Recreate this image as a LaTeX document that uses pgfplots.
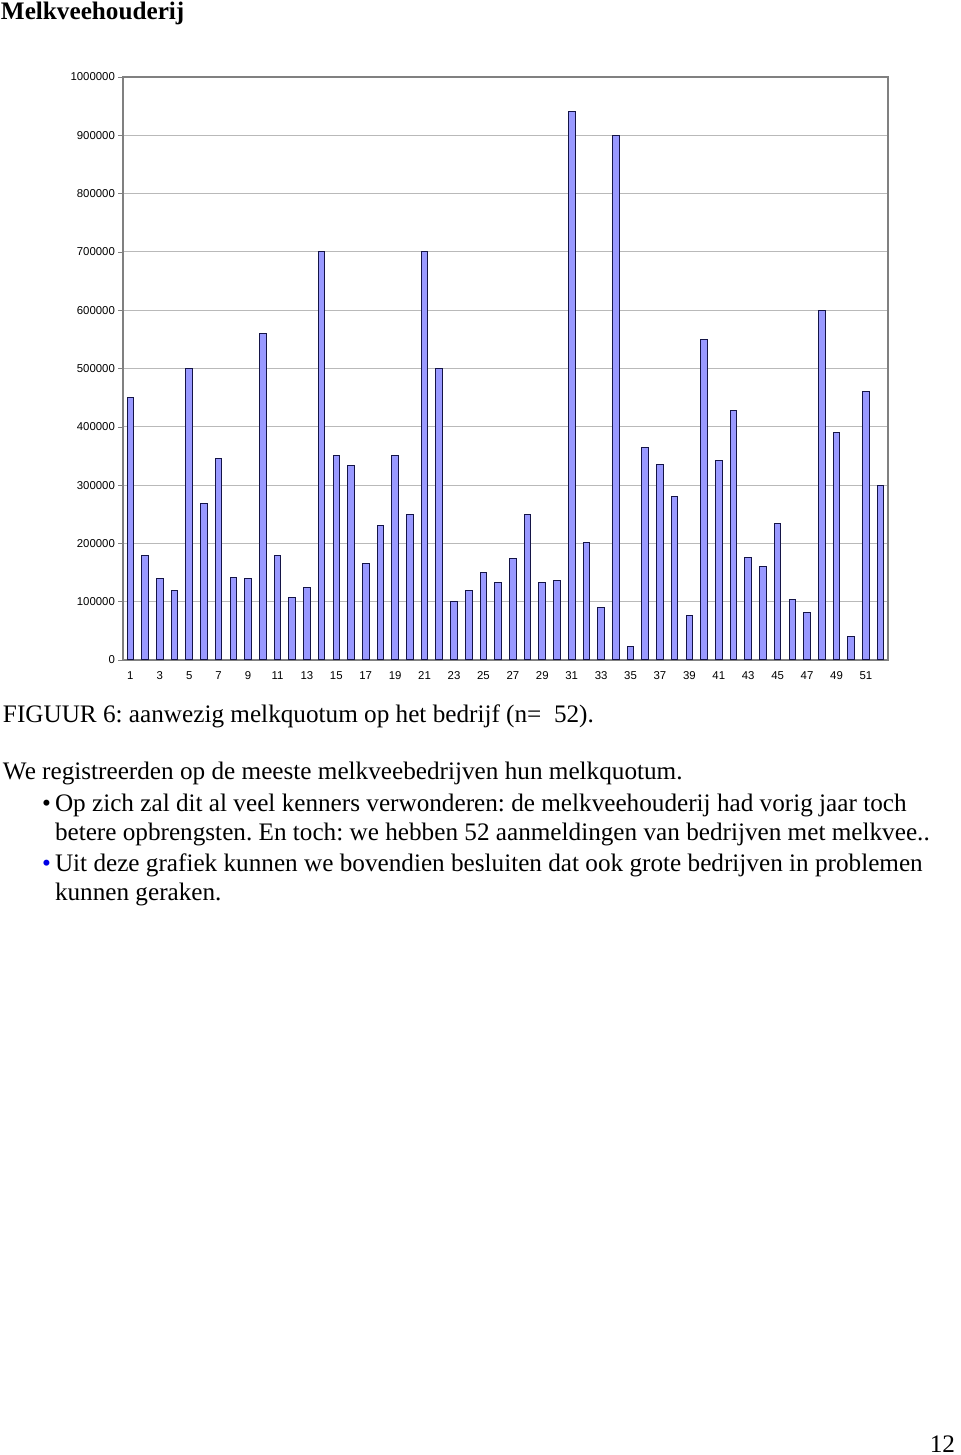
\documentclass[border=0pt]{standalone}
\usepackage{pgfplots}
\pgfplotsset{compat=1.18}
\usepackage{fontspec}
\setmainfont{Liberation Serif}
\newfontfamily\arial{Liberation Sans}
\definecolor{barfill}{RGB}{153,153,255}
\definecolor{baredge}{RGB}{20,20,70}
\definecolor{bulletblue}{RGB}{0,0,230}
\frenchspacing
\begin{document}
\begin{tikzpicture}
\path[use as bounding box] (0,0) rectangle (480pt,727.5pt);
\begin{axis}[
  at={(61.5pt,397.5pt)}, anchor=south west,
  scale only axis, width=382.5pt, height=291.5pt,
  ybar, bar width=3.3pt,
  xmin=0.5, xmax=52.5, ymin=0, ymax=1000000,
  xtick={1,3,...,51},
  major x tick style={draw=none},
  extra x ticks={0.5,1.5,...,52.5},
  extra x tick labels={},
  extra x tick style={major tick length=2.5pt, tick style={draw=gray}, xtick pos=bottom},
  ytick={0,100000,...,1000000},
  scaled y ticks=false,
  yticklabel style={/pgf/number format/fixed, /pgf/number format/1000 sep={}},
  /pgf/number format/assume math mode=true,
  ticklabel style={font=\arial\fontsize{5.7}{7}\selectfont, text=black},
  xticklabel style={anchor=north, text height=4.2pt, text depth=0pt, yshift=0.3pt},
  yticklabel style={xshift=2pt},
  tick align=outside, major tick length=2.5pt,
  ytick pos=left, xtick pos=bottom,
  tick style={gray},
  ymajorgrids, grid style={gray!55, line width=0.5pt},
  axis line style={gray, line width=0.6pt},
]
\addplot[fill=barfill, draw=baredge, line width=0.5pt] coordinates {
(1,450000) (2,180000) (3,140000) (4,120000) (5,500000) (6,268000)
(7,345000) (8,142000) (9,140000) (10,560000) (11,180000) (12,107000)
(13,125000) (14,700000) (15,350000) (16,333000) (17,165000) (18,230000)
(19,350000) (20,250000) (21,700000) (22,500000) (23,100000) (24,120000)
(25,150000) (26,133000) (27,174000) (28,250000) (29,133000) (30,137000)
(31,940000) (32,202000) (33,90000) (34,900000) (35,23000) (36,364000)
(37,335000) (38,280000) (39,76000) (40,550000) (41,342000) (42,428000)
(43,175000) (44,160000) (45,234000) (46,104000) (47,81000) (48,600000)
(49,391000) (50,40000) (51,460000) (52,300000)
};
\end{axis}
\begin{scope}[every node/.style={inner sep=0pt, outer sep=0pt}]
\node[anchor=base west, font=\bfseries\fontsize{12.6}{15}\selectfont] at (0.5pt,717.5pt) {Melkveehouderij};
\node[anchor=base west, font=\fontsize{12.6}{15}\selectfont] at (1.5pt,366pt) {FIGUUR 6: aanwezig melkquotum op het bedrijf (n=\ \ 52).};
\node[anchor=base west, font=\fontsize{12.6}{15}\selectfont] at (1.5pt,337.5pt) {We registreerden op de meeste melkveebedrijven hun melkquotum.};
\node[anchor=base east, font=\fontsize{12.6}{15}\selectfont] at (25.5pt,321.5pt) {•};
\node[anchor=base west, font=\fontsize{12.6}{15}\selectfont] at (27.5pt,321.5pt) {Op zich zal dit al veel kenners verwonderen: de melkveehouderij had vorig jaar toch};
\node[anchor=base west, font=\fontsize{12.6}{15}\selectfont] at (27.5pt,307pt) {betere opbrengsten. En toch: we hebben 52 aanmeldingen van bedrijven met melkvee..};
\node[anchor=base east, font=\fontsize{12.6}{15}\selectfont, text=bulletblue] at (25.5pt,291.5pt) {•};
\node[anchor=base west, font=\fontsize{12.6}{15}\selectfont] at (27.5pt,291.5pt) {Uit deze grafiek kunnen we bovendien besluiten dat ook grote bedrijven in problemen};
\node[anchor=base west, font=\fontsize{12.6}{15}\selectfont] at (27.5pt,277pt) {kunnen geraken.};
\node[anchor=base east, font=\fontsize{12.6}{15}\selectfont] at (477.5pt,1.5pt) {12};
\end{scope}
\end{tikzpicture}
\end{document}
